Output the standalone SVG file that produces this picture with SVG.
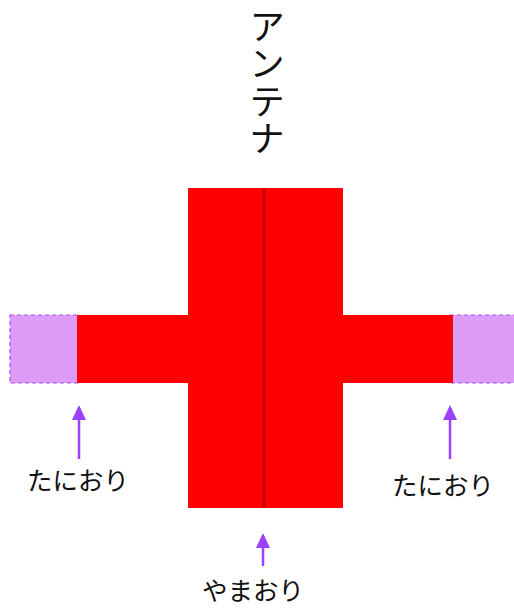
<svg xmlns="http://www.w3.org/2000/svg" width="514" height="609" viewBox="0 0 514 609">
<defs>
<style>
.lbl{font-family:"Noto Sans CJK JP","Noto Sans",sans-serif;font-size:25.5px;fill:#111;text-anchor:middle}
.ttl{font-family:"Noto Sans CJK JP","Noto Sans",sans-serif;font-size:36px;fill:#111;writing-mode:vertical-rl;letter-spacing:1.5px}
.red{fill:#ff0000}
.fold{fill:#dc9cf7;stroke:#a64dff;stroke-width:1.2;stroke-dasharray:4 3}
.arr{stroke:#9b40ff;stroke-width:2.5}
.ah{fill:#9b40ff}
</style>
</defs>
<g id="title">
<text class="ttl" x="267" y="8">アンテナ</text>
</g>
<g id="left-fold"><rect class="fold" x="10" y="315" width="70" height="68"/></g>
<g id="right-fold"><rect class="fold" x="450" y="315" width="70" height="68"/></g>
<g id="antenna">
<rect class="red" x="77" y="315" width="376" height="68"/>
<rect class="red" x="188" y="188" width="155" height="320"/>
<line x1="264" y1="188" x2="264" y2="508" stroke="#c80000" stroke-width="3"/>
</g>
<g id="connectors">
<line class="arr" x1="79" y1="459" x2="79" y2="408"/>
<polygon class="ah" points="79,405 72,420 86,420"/>
<line class="arr" x1="450" y1="459" x2="450" y2="408"/>
<polygon class="ah" points="450,405 443,420 457,420"/>
<line class="arr" x1="263" y1="566" x2="263" y2="536"/>
<polygon class="ah" points="263,533 256,548 270,548"/>
</g>
<g id="label-left"><text class="lbl" x="78" y="490">たにおり</text></g>
<g id="label-right"><text class="lbl" x="443" y="495">たにおり</text></g>
<g id="label-bottom"><text class="lbl" x="253" y="600">やまおり</text></g>
</svg>
